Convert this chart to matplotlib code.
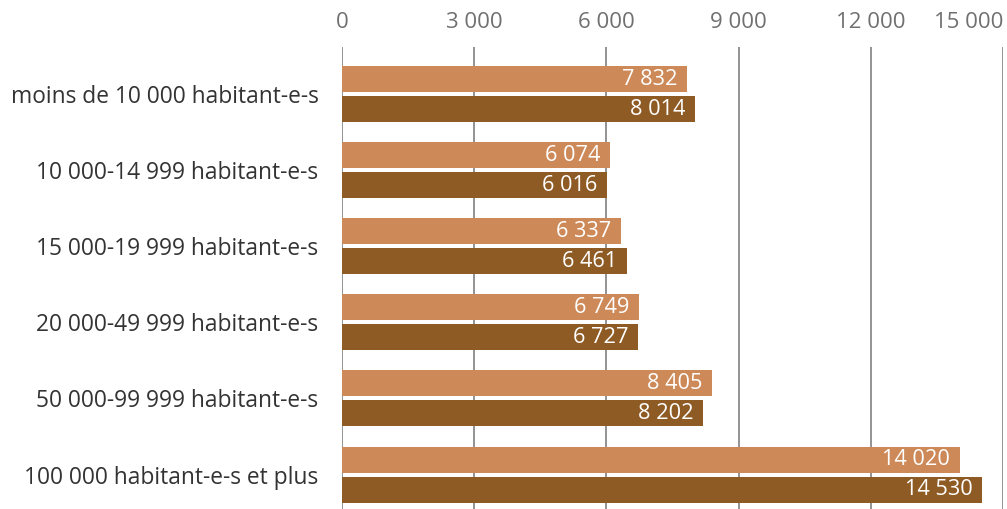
import numpy as np
import matplotlib.pyplot as plt
from matplotlib.ticker import FixedLocator

plt.rcParams['font.family'] = ['Open Sans', 'DejaVu Sans']

categories = [
    'moins de 10 000 habitant-e-s',
    '10 000-14 999 habitant-e-s',
    '15 000-19 999 habitant-e-s',
    '20 000-49 999 habitant-e-s',
    '50 000-99 999 habitant-e-s',
    '100 000 habitant-e-s et plus',
]
series_a = [7832, 6074, 6337, 6749, 8405, 14020]
series_b = [8014, 6016, 6461, 6727, 8202, 14530]
ticks = [0, 3000, 6000, 9000, 12000, 15000]

color_a = '#cd8958'
color_b = '#8f5b25'
W, H = 1007, 509


def fmt(v):
    return f'{v:,}'.replace(',', ' ')


fig = plt.figure(figsize=(W / 100, H / 100), dpi=100)
# axes: x from 0 at px 342 to 15000 at px 1003, top at px 47, bottom at fig edge
ax = fig.add_axes([342 / W, 0, (1003 - 342) / W, (H - 47) / H])

y = np.arange(len(categories))
off = 15 / 76.1
h = 26 / 76.1
ax.barh(y - off, series_a, height=h, color=color_a, zorder=2)
ax.barh(y + off, series_b, height=h, color=color_b, zorder=2)

for i in range(len(categories)):
    for yy, v in ((y[i] - off, series_a[i]), (y[i] + off, series_b[i])):
        ax.annotate(fmt(v), (v, yy), xytext=(-7, 0), textcoords='offset points',
                    ha='right', va='center', color='white', fontsize=15.7, zorder=3)

ax.set_xlim(0, 15000)
ax.set_ylim(-0.618 + (H - 47) / 76.1, -0.618)
ax.xaxis.set_major_locator(FixedLocator(ticks))
ax.set_xticklabels([fmt(t) for t in ticks])
ax.xaxis.tick_top()
ax.tick_params(axis='x', length=0, pad=10, labelsize=16, labelcolor='#707070')
ax.get_xticklabels()[-1].set_ha('right')
ax.set_yticks(y)
ax.set_yticklabels(categories)
ax.tick_params(axis='y', length=0, pad=17, labelsize=16.4, labelcolor='#333333')
ax.grid(axis='x', color='#8a8a8a', lw=1.3, zorder=1)
ax.set_axisbelow(True)
for s in ax.spines.values():
    s.set_visible(False)

fig.savefig('out.png', dpi=100)
